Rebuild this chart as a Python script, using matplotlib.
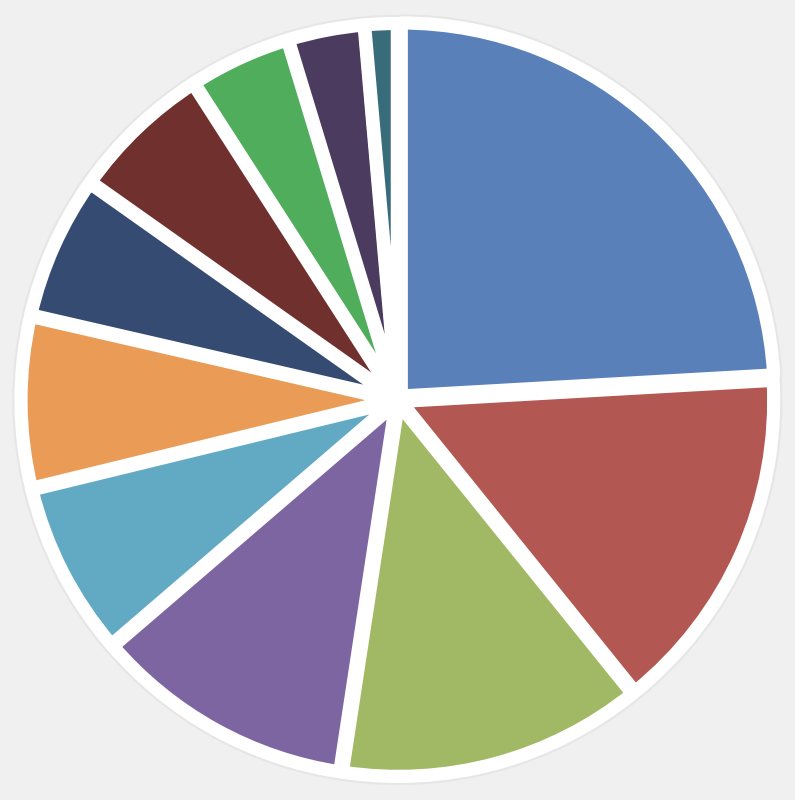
import matplotlib.pyplot as plt

# slice shares, read clockwise from 12 o'clock
values = [24.1, 15.1, 13.2, 11.3, 7.5, 7.4, 6.2, 6.1, 4.4, 3.3, 1.4]
colors = ["#5a80b9", "#b25751", "#a1b964", "#7c65a1", "#62a9c4", "#ea9b55",
          "#354b72", "#70302e", "#50ad5c", "#4a3b5f", "#386c7b"]
explode = [0.055, 0.035, 0.035, 0.035, 0.035, 0.035, 0.035, 0.035, 0.035, 0.035, 0.035]

fig = plt.figure(figsize=(7.95, 8), dpi=100, facecolor="#f0f0f0")
ax = fig.add_axes([0, 0, 1, 1])
ax.set_facecolor("#f0f0f0")

# faint grey rim under the white outlines
ax.pie(values, colors=colors, explode=explode, startangle=90,
       counterclock=False, radius=3.73, center=(0, 0),
       wedgeprops=dict(edgecolor="#e6e6e6", linewidth=12.5, joinstyle="round"))
wedges, _ = ax.pie(values, colors=colors, explode=explode, startangle=90,
                   counterclock=False, radius=3.73, center=(0, 0),
                   wedgeprops=dict(edgecolor="white", linewidth=9.5, joinstyle="round"))

ax.set_xlim(-3.975, 3.975)
ax.set_ylim(-4, 4)
ax.set_aspect("equal")
ax.axis("off")

fig.savefig("out.png", dpi=100, facecolor=fig.get_facecolor())
